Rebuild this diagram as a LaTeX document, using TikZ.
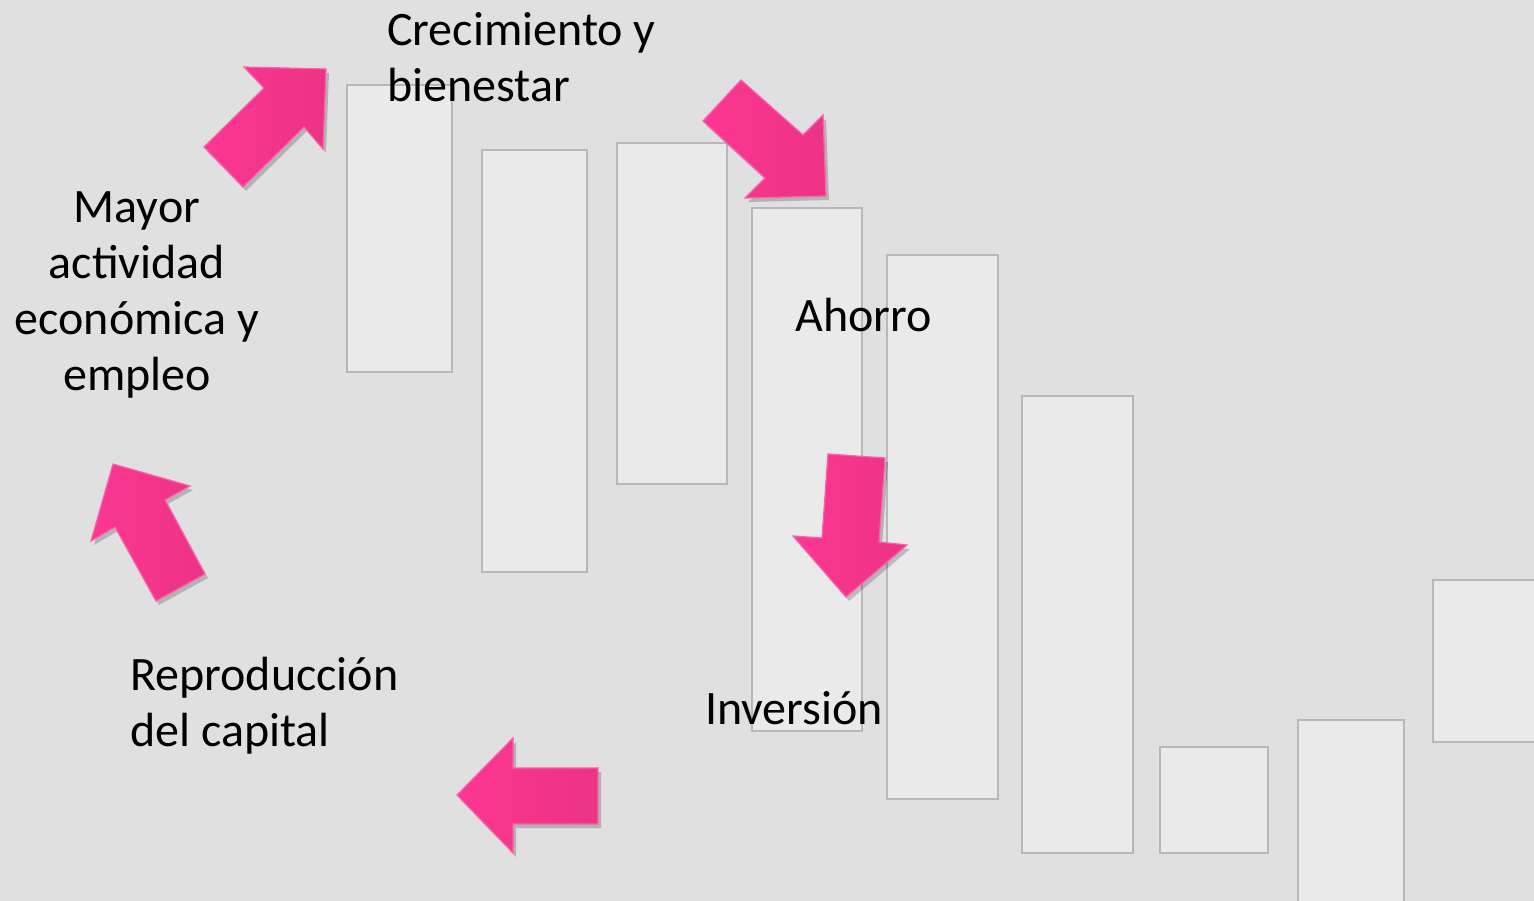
\documentclass[tikz,border=0pt]{standalone}
\usepackage{fontspec}
\setmainfont{Carlito}
\usetikzlibrary{shadows}
\definecolor{bg}{HTML}{E0E0E0}
\definecolor{boxfill}{HTML}{EAEAEA}
\definecolor{boxline}{HTML}{B8B8B8}
\definecolor{pinkA}{HTML}{FC3792}
\definecolor{pinkB}{HTML}{EC3384}
\definecolor{pinkEdge}{HTML}{FF5EAB}
\tikzset{
  panel/.style={fill=boxfill, draw=boxline, line width=2.4pt},
  blockarrow/.style={left color=pinkA, right color=pinkB, draw=pinkEdge, line width=1.2pt,
    drop shadow={shadow xshift=3pt, shadow yshift=-4pt, opacity=0.2, fill=black}},
  lbl/.style={font=\fontsize{48}{56}\selectfont, inner sep=0pt, text=black}
}
\begin{document}
\begin{tikzpicture}[x=1pt,y=-1pt]
\useasboundingbox (0,0) rectangle (1534,901);
\fill[bg] (0,0) rectangle (1534,901);
% panels
\draw[panel] (347,85) rectangle (452,372);
\draw[panel] (482,150) rectangle (587,572);
\draw[panel] (617,143) rectangle (727,484);
\draw[panel] (752,208) rectangle (862,731);
\draw[panel] (887,255) rectangle (998,799);
\draw[panel] (1022,396) rectangle (1133,853);
\draw[panel] (1160,747) rectangle (1268,853);
\draw[panel] (1298,720) rectangle (1404,910);
\draw[panel] (1433,580) rectangle (1545,742);
% arrows
\path[blockarrow] (244,67) -- (326,69) -- (323,149) -- (304,127) -- (243,187) -- (204,147) -- (264,88) -- cycle;
\path[blockarrow] (741,80) -- (803,135) -- (823,115) -- (826,196) -- (745,198) -- (765,178) -- (703,121) -- cycle;
\path[blockarrow] (828,454) -- (885,458) -- (879,542) -- (907,545) -- (846,597) -- (793,536) -- (822,538) -- cycle;
\path[blockarrow] (113,464) -- (190,486) -- (165,500) -- (205,574) -- (156,601) -- (115,527) -- (91,541) -- cycle;
\path[blockarrow] (457,795) -- (513,738) -- (513,768) -- (598,768) -- (598,824) -- (513,824) -- (513,853) -- cycle;
% labels
\node[lbl, anchor=west, align=left] (crec) at (387,57) {Crecimiento y\\bienestar};
\node[lbl, align=center] (mayor) at (137,295) {Mayor\\actividad\\económica y\\empleo};
\node[lbl, anchor=west] (ahorro) at (795,315) {Ahorro};
\node[lbl, anchor=west, align=left] (repro) at (130,706) {Reproducción\\del capital};
\node[lbl, anchor=west] (inv) at (705,708) {Inversión};
\end{tikzpicture}
\end{document}
